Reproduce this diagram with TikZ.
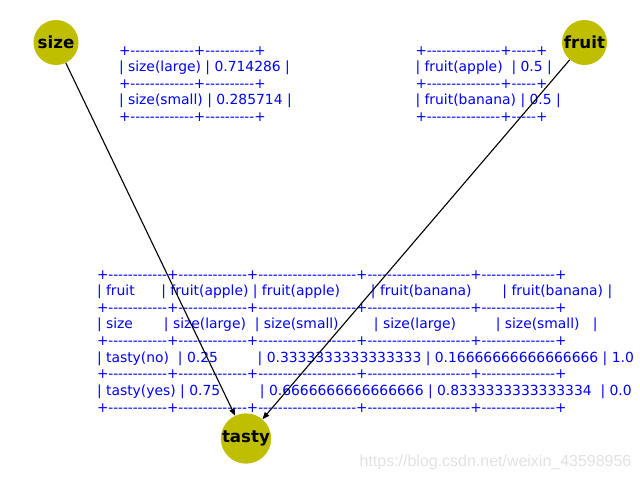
\documentclass[tikz,border=0pt]{standalone}
\usepackage{fontspec}
\usepackage{graphicx}
\newfontfamily\tabfont[Ligatures=TeXOff]{DejaVu Sans}
\newfontfamily\lblfont{DejaVu Sans}
\newfontfamily\wmfont{Liberation Sans}
\usetikzlibrary{arrows.meta}
\definecolor{nodey}{RGB}{191,191,0}
\definecolor{tblue}{RGB}{0,0,255}
\definecolor{wmgray}{RGB}{226,226,226}
\newcommand{\brdline}[1]{\scalebox{0.976}[1]{#1}}
\begin{document}
\begin{tikzpicture}[x=0.72pt,y=-0.72pt,
  vnode/.style={circle, fill=nodey, minimum size=32.4pt, inner sep=0pt,
    font=\lblfont\bfseries\fontsize{12}{14}\selectfont},
  rowtext/.style={anchor=base west, inner sep=0pt, outer sep=0pt, text=tblue,
    font=\tabfont\fontsize{10}{12}\selectfont},
  edge/.style={-{Triangle[length=5pt,width=4pt]}, line width=0.8pt, black},
  wm/.style={inner sep=0pt, text=wmgray, font=\wmfont\fontsize{11.5}{13}\selectfont}]
\useasboundingbox (0,0) rectangle (640,480);
\clip (0,0) rectangle (640,480);
% size table
\node[rowtext] (s1) at (119,55)    {\brdline{+-------------+----------+}};
\node[rowtext] (s2) at (119,71.6)  {|~size(large)~|~0.714286~|};
\node[rowtext] (s3) at (119,88.2)  {\brdline{+-------------+----------+}};
\node[rowtext] (s4) at (119,104.8) {|~size(small)~|~0.285714~|};
\node[rowtext] (s5) at (119,121.4) {\brdline{+-------------+----------+}};
% fruit table
\node[rowtext] (f1) at (415.5,55)    {\brdline{+---------------+-----+}};
\node[rowtext] (f2) at (415.5,71.6)  {|~fruit(apple)~~|~0.5~|};
\node[rowtext] (f3) at (415.5,88.2)  {\brdline{+---------------+-----+}};
\node[rowtext] (f4) at (415.5,104.8) {|~fruit(banana)~|~0.5~|};
\node[rowtext] (f5) at (415.5,121.4) {\brdline{+---------------+-----+}};
% tasty table
\node[rowtext] (t1) at (97,279)     {\brdline{+------------+--------------+--------------------+---------------------+---------------+}};
\node[rowtext] (t2) at (97,295.6)   {|~fruit~~~~~~|~fruit(apple)~|~fruit(apple)~~~~~~~|~fruit(banana)~~~~~~~|~fruit(banana)~|};
\node[rowtext] (t3) at (97,312.25)  {\brdline{+------------+--------------+--------------------+---------------------+---------------+}};
\node[rowtext] (t4) at (97,328.9)   {|~size~~~~~~~|~size(large)~~|~size(small)~~~~~~~~|~size(large)~~~~~~~~~|~size(small)~~~|};
\node[rowtext] (t5) at (97,345.5)   {\brdline{+------------+--------------+--------------------+---------------------+---------------+}};
\node[rowtext] (t6) at (97,362.1)   {|~tasty(no)~~|~0.25~~~~~~~~~|~0.3333333333333333~|~0.16666666666666666~|~1.0~~~~~~~~~~~|};
\node[rowtext] (t7) at (97,378.75)  {\brdline{+------------+--------------+--------------------+---------------------+---------------+}};
\node[rowtext] (t8) at (97,395.4)   {|~tasty(yes)~|~0.75~~~~~~~~~|~0.6666666666666666~|~0.8333333333333334~~|~0.0~~~~~~~~~~~|};
\node[rowtext] (t9) at (97,412)     {\brdline{+------------+--------------+--------------------+---------------------+---------------+}};
% graph nodes
\node[vnode] (size)  at (56,42.5)  {size};
\node[vnode] (fruit) at (584.5,42.5) {fruit};
\node[vnode] (tasty) at (246,438.5) {tasty};
\draw[edge] (size) -- (tasty);
\draw[edge] (fruit) -- (tasty);
% watermark
\node[wm] (wmark) at (495.5,462) {https://blog.csdn.net/weixin\_43598956};
\end{tikzpicture}
\end{document}
